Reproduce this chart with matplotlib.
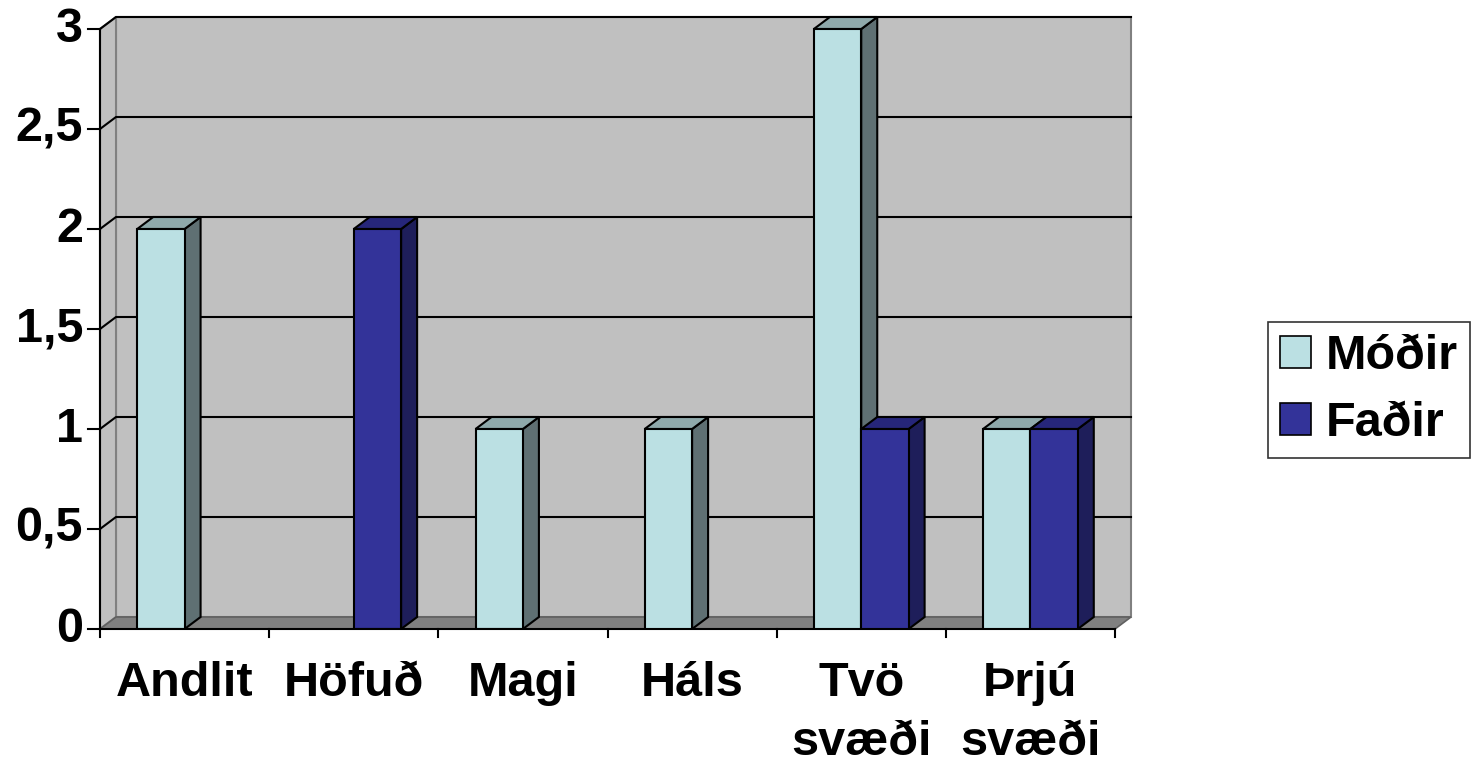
import matplotlib
matplotlib.use("Agg")
import matplotlib.pyplot as plt
from matplotlib.patches import Polygon, Patch

plt.rcParams['font.family'] = ['Liberation Sans', 'DejaVu Sans']
plt.rcParams['font.weight'] = 'bold'

categories = ['Andlit', 'Höfuð', 'Magi', 'Háls', 'Tvö\nsvæði', 'Þrjú\nsvæði']
modir = [2, 0, 1, 1, 3, 1]
fadir = [0, 2, 0, 0, 1, 1]
series_names = ['Móðir', 'Faðir']
y_ticks = [0, 0.5, 1, 1.5, 2, 2.5, 3]
y_labels = ['0', '0,5', '1', '1,5', '2', '2,5', '3']

# colours: front, side, top
colors = {
    'Móðir': ('#BBE0E3', '#5F7073', '#8FA9AB'),
    'Faðir': ('#333399', '#1E1E5A', '#26267A'),
}

W, H = 1471, 764
fs = 35
fig = plt.figure(figsize=(W / 100, H / 100), dpi=100)
ax = fig.add_axes([100 / W, (H - 629) / H, (1131 - 100) / W, (629 - 17) / H])

n = len(categories)
dx = 16 / 169.2   # depth offset in category units
dy = 0.06         # depth offset in value units
ymax = 3
ax.set_xlim(0, n + dx)
ax.set_ylim(0, ymax + dy)
ax.axis('off')

# walls and floor
ax.add_patch(Polygon([(dx, dy), (n + dx, dy), (n + dx, ymax + dy), (dx, ymax + dy)],
                     closed=True, fc='#C0C0C0', ec='#808080', lw=1.5, zorder=1, clip_on=False))
ax.add_patch(Polygon([(0, 0), (dx, dy), (dx, ymax + dy), (0, ymax)],
                     closed=True, fc='#C0C0C0', ec='#808080', lw=1.5, zorder=1, clip_on=False))
ax.add_patch(Polygon([(0, 0), (n, 0), (n + dx, dy), (dx, dy)],
                     closed=True, fc='#808080', ec='#606060', lw=1.2, zorder=1.5, clip_on=False))

# gridlines
for v in y_ticks[1:]:
    ax.plot([0, dx, n + dx], [v, v + dy, v + dy], color='black', lw=1.5, zorder=2, clip_on=False)

# axes lines and ticks
ax.plot([0, 0], [0, ymax], color='black', lw=1.5, zorder=6, clip_on=False)
ax.plot([0, n], [0, 0], color='black', lw=1.5, zorder=6, clip_on=False)
for v, lab in zip(y_ticks, y_labels):
    ax.plot([-0.07, 0], [v, v], color='black', lw=1.5, zorder=6, clip_on=False)
    ax.text(-0.1, v, lab, ha='right', va='center', fontsize=fs, fontweight='bold')
for i in range(n + 1):
    ax.plot([i, i], [0, -0.04], color='black', lw=1.5, zorder=6, clip_on=False)
for i, cat in enumerate(categories):
    ax.text(i + 0.5, -0.16, cat, ha='center', va='top', fontsize=fs,
            fontweight='bold', linespacing=1.4)

# bars
w = 0.28
for i in range(n):
    for k, (name, vals) in enumerate(zip(series_names, [modir, fadir])):
        h = vals[i]
        if h == 0:
            continue
        front, side, top = colors[name]
        x0 = i + 0.5 - w + k * w
        z = 3 + i + k * 0.1
        ax.bar(x0, h, width=w, align='edge', color=front, edgecolor='black', lw=1.5, zorder=z + 0.05)
        ax.add_patch(Polygon([(x0 + w, 0), (x0 + w + dx, dy), (x0 + w + dx, h + dy), (x0 + w, h)],
                             closed=True, fc=side, ec='black', lw=1.5, zorder=z, clip_on=False))
        ax.add_patch(Polygon([(x0, h), (x0 + dx, h + dy), (x0 + w + dx, h + dy), (x0 + w, h)],
                             closed=True, fc=top, ec='black', lw=1.5, zorder=z, clip_on=False))

handles = [Patch(facecolor=colors[s][0], edgecolor='black', lw=1.2) for s in series_names]
leg = fig.legend(handles, series_names, loc='center left', bbox_to_anchor=(1268 / W, 1 - 390 / H),
                 prop={'size': fs, 'weight': 'bold'}, frameon=True, fancybox=False,
                 handlelength=0.64, handleheight=0.62, handletextpad=0.29, labelspacing=0.45,
                 borderpad=0.25, borderaxespad=0)
leg.get_frame().set_edgecolor('black')
leg.get_frame().set_linewidth(1.2)

fig.savefig('out.png', dpi=100, facecolor='white')
